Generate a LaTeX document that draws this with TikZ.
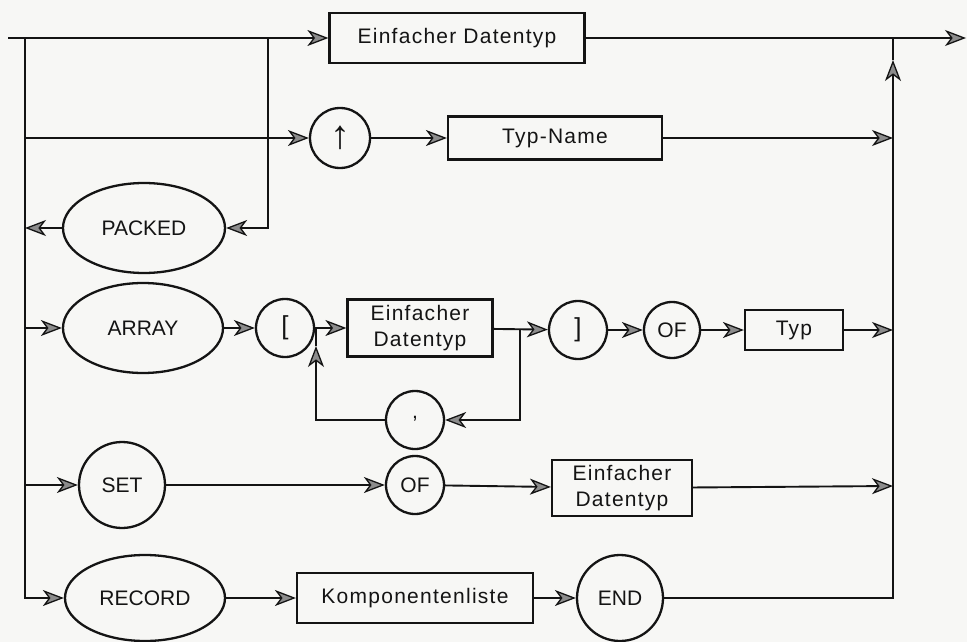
\documentclass[tikz,border=0pt]{standalone}
\usepackage{fontspec}
\setmainfont{Liberation Sans}
\usetikzlibrary{arrows.meta,shapes.geometric}
\definecolor{ink}{HTML}{141414}
\definecolor{tipgrey}{HTML}{8C8C8C}
\definecolor{paper}{HTML}{F7F7F5}

\begin{document}
\begin{tikzpicture}[x=1pt,y=-1pt,color=ink,line width=1.9pt,
  font=\fontsize{21}{26}\selectfont,
  >={Stealth[length=21pt,width=16pt,inset=6pt,line width=1.3pt,fill=tipgrey]},
  box/.style={draw,rectangle,line width=2.2pt,inner sep=2pt,align=center,
    font=\fontsize{21}{26}\selectfont\addfontfeature{LetterSpace=6}},
  round/.style={draw,circle,line width=2.3pt,inner sep=0pt},
  oval/.style={draw,ellipse,line width=2.3pt,inner sep=0pt},
  bus/.style={line width=2.8pt}]
  \fill[paper] (0,0) rectangle (967,642);
  \useasboundingbox (0,0) rectangle (967,642);

  % junctions on the left and right buses
  \coordinate (in) at (8,38);
  \coordinate (lbtop) at (25,38);
  \coordinate (lb2) at (25,138);
  \coordinate (lb3) at (25,228);
  \coordinate (lb4) at (25,328);
  \coordinate (lb5) at (25,485);
  \coordinate (pk) at (268,38);
  \coordinate (rbtop) at (893,38);
  \coordinate (rbarr) at (893,60);
  \coordinate (rb2) at (893,138);
  \coordinate (rb4) at (893,330);
  \coordinate (rb5) at (893,486);
  \coordinate (out) at (966,38);

  % nodes, row by row
  \node[box,minimum width=255pt,minimum height=50pt] (simple) at (457,38) {Einfacher Datentyp};
  \node[round,minimum size=60pt] (up) at (340,138) {\fontsize{40}{40}\selectfont ↑};
  \node[box,minimum width=214pt,minimum height=43pt] (tname) at (555,138) {Typ-Name};
  \node[oval,minimum width=162pt,minimum height=90pt] (packed) at (144,228) {PACKED};
  \node[oval,minimum width=160pt,minimum height=90pt] (array) at (143,328) {ARRAY};
  \node[round,minimum size=58pt] (lbr) at (285,328) {\fontsize{26}{26}\selectfont [};
  \node[box,minimum width=145pt,minimum height=57pt] (simple2) at (420,328) {Einfacher\\Datentyp};
  \node[round,minimum size=58pt] (comma) at (415,420) {\raisebox{5pt}{,}};
  \node[round,minimum size=58pt] (rbr) at (578,330) {\fontsize{26}{26}\selectfont ]};
  \node[round,minimum size=56pt] (of1) at (672,330) {OF};
  \node[box,minimum width=98pt,minimum height=40pt] (typ) at (794,330) {Typ};
  \node[round,minimum size=86pt] (set) at (122,485) {SET};
  \node[round,minimum size=58pt] (of2) at (415,485) {OF};
  \node[box,minimum width=140pt,minimum height=56pt] (simple3) at (622,488) {Einfacher\\Datentyp};
  \node[oval,minimum width=160pt,minimum height=86pt] (record) at (145,598) {RECORD};
  \node[box,minimum width=236pt,minimum height=50pt] (complist) at (415,598) {Komponentenliste};
  \node[round,minimum size=86pt] (end) at (620,598) {END};

  \coordinate (lj) at (316,328);
  \coordinate (ljarr) at (316,346);
  \coordinate (rj) at (520,330);

  % connectors
  \draw[->] (in) -- (simple.west);
  \draw[->] (simple.east) -- (out);
  \draw[bus,->] (lbtop) |- (record);
  \draw[->] (lb2) -- (up);
  \draw[->] (up) -- (tname);
  \draw[->] (tname) -- (rb2);
  \draw[->] (pk) |- (packed);
  \draw[->] (packed) -- (lb3);
  \draw[->] (lb4) -- (array);
  \draw[->] (array) -- (lbr);
  \draw[->] (lbr) -- (simple2);
  \draw[->] (simple2) -- (rbr);
  \draw[->] (rj) |- (comma);
  \draw[->] (comma) -| (ljarr);
  \draw (ljarr) -- (lj);
  \draw[->] (rbr) -- (of1);
  \draw[->] (of1) -- (typ);
  \draw[->] (typ) -- (rb4);
  \draw[->] (lb5) -- (set);
  \draw[->] (set) -- (of2);
  \draw[->] (of2) -- (simple3);
  \draw[->] (simple3) -- (rb5);
  \draw[->] (record) -- (complist);
  \draw[->] (complist) -- (end);
  \draw[bus,->] (end) -| (rbarr);
  \draw[bus] (rbarr) -- (rbtop);
\end{tikzpicture}
\end{document}
